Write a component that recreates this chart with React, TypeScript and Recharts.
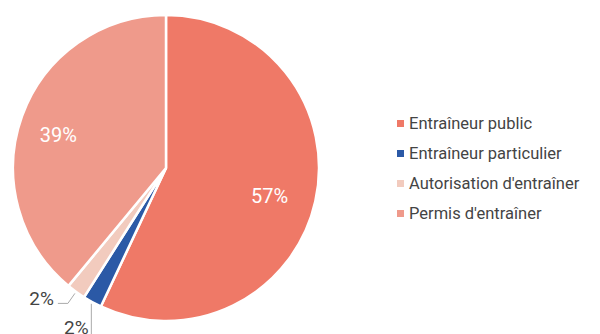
import { PieChart, Pie, Cell } from 'recharts';

const categories = [
  'Entraîneur public',
  'Entraîneur particulier',
  "Autorisation d'entraîner",
  "Permis d'entraîner",
];
const shares = [57, 2, 2, 39];
const colors = ['#EF7967', '#2B59A6', '#F2CBBE', '#EF9A8B'];

const data = categories.map((name, i) => ({ name, value: shares[i] }));

const RAD = Math.PI / 180;

if (typeof document !== 'undefined') document.body.style.margin = '0';

function renderLabel(props: any) {
  const { cx, cy, midAngle, outerRadius, value, index } = props;
  const cos = Math.cos(-midAngle * RAD);
  const sin = Math.sin(-midAngle * RAD);
  if (value >= 10) {
    const r = outerRadius * 0.72;
    return (
      <text
        x={cx + r * cos - 4}
        y={cy + r * sin + 4}
        fill="#fff"
        fontSize={20}
        textAnchor="middle"
        dominantBaseline="central"
      >
        {`${value}%`}
      </text>
    );
  }
  // small slices: outside label with a leader line
  const sx = cx + (outerRadius + 2) * cos;
  const sy = cy + (outerRadius + 2) * sin;
  if (index === 1) {
    return (
      <g>
        <path d={`M${sx},${sy}L${sx},${sy + 32}`} stroke="#aaa" fill="none" />
        <text x={sx - 15} y={sy + 24} fill="#444" fontSize={19} textAnchor="middle" dominantBaseline="central">
          {`${value}%`}
        </text>
      </g>
    );
  }
  const ex = sx - 7;
  const ey = sy + 10;
  return (
    <g>
      <path d={`M${sx},${sy}L${ex},${ey}L${ex - 10},${ey}`} stroke="#aaa" fill="none" />
      <text x={ex - 14} y={ey - 5} fill="#444" fontSize={19} textAnchor="end" dominantBaseline="central">
        {`${value}%`}
      </text>
    </g>
  );
}

export default function App() {
  return (
    <div style={{ position: 'relative', width: 600, height: 334, fontFamily: 'Roboto, sans-serif', background: '#fff' }}>
      <PieChart width={600} height={334} margin={{ top: 0, right: 0, bottom: 0, left: 0 }}>
        <Pie
          data={data}
          dataKey="value"
          nameKey="name"
          cx={166}
          cy={168}
          outerRadius={153}
          startAngle={90}
          endAngle={-270}
          stroke="#fff"
          strokeWidth={2.5}
          label={renderLabel}
          labelLine={false}
          isAnimationActive={false}
        >
          {data.map((d, i) => (
            <Cell key={d.name} fill={colors[i]} />
          ))}
        </Pie>
      </PieChart>
      <div style={{ position: 'absolute', left: 397, top: 108, fontSize: 16.5, color: '#444' }}>
        {categories.map((c, i) => (
          <div key={c} style={{ display: 'flex', alignItems: 'center', height: 30 }}>
            <span
              style={{ width: 7, height: 7, background: colors[i], marginRight: 5, display: 'inline-block' }}
            />
            {c}
          </div>
        ))}
      </div>
    </div>
  );
}
